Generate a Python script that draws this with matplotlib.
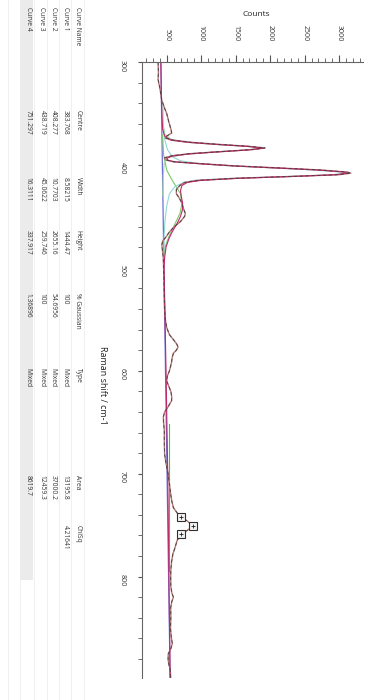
import matplotlib
matplotlib.use("Agg")
import matplotlib.pyplot as plt
from matplotlib.patches import Rectangle
from matplotlib.ticker import MultipleLocator

plt.rcParams['font.family'] = ['Open Sans', 'DejaVu Sans']

# measured spectrum
shift = [300, 310, 317, 325, 337, 345, 350, 358, 365, 369, 372, 374, 376, 378, 380, 382, 383.5,
         385, 387, 389, 391, 393, 395, 397, 399, 401, 403, 405, 407, 408, 409.5, 411, 413, 415,
         417, 420, 424, 428, 432, 437, 442, 447, 450, 455, 460, 465, 470, 474, 478, 484, 490,
         500, 510, 520, 530, 540, 550, 558, 565, 570, 574, 577, 580, 583, 587, 592, 600, 605,
         610, 615, 620, 625, 629, 635, 640, 645, 650, 658, 670, 681, 690, 701, 710, 720, 727,
         733, 738, 742, 746, 750.8, 755, 759, 765, 772, 778, 785, 793, 801, 810, 816, 820, 824,
         830, 840, 850, 858, 865, 870, 875, 880, 885, 890, 898]
counts = [375, 380, 375, 400, 428, 470, 500, 530, 560, 572, 500, 480, 600, 850, 1250, 1700, 1925,
          1750, 1300, 850, 580, 470, 480, 600, 1050, 1500, 2150, 2750, 3120, 3170, 3000, 2400, 1500, 950,
          760, 690, 640, 640, 680, 720, 740, 770, 760, 700, 610, 540, 490, 440, 430, 440, 450,
          455, 460, 462, 465, 470, 480, 500, 540, 600, 645, 665, 640, 597, 580, 570, 540, 510,
          500, 530, 560, 572, 572, 520, 470, 451, 455, 465, 465, 470, 490, 523, 540, 558, 575,
          597, 650, 703, 800, 877, 800, 707, 650, 620, 590, 572, 560, 558, 560, 575, 597, 575,
          558, 560, 555, 565, 581, 560, 523, 520, 530, 550, 558]

# total fit
fit_shift = [300, 340, 365, 372, 376, 378, 380, 382, 383.8, 385.5, 387.5, 389.5, 391.5, 393.5,
             395.5, 397, 399, 401, 403, 405, 407, 408, 409.5, 411, 413, 415, 417, 420, 425, 430,
             437, 443, 450, 457, 465, 472, 480, 490, 500, 600, 700, 900]
fit_counts = [415, 425, 440, 470, 560, 800, 1200, 1680, 1900, 1680, 1200, 800, 580, 500,
              520, 620, 1000, 1480, 2100, 2700, 3090, 3110, 2950, 2400, 1550, 1000, 800, 720, 700, 710,
              730, 730, 700, 650, 580, 530, 490, 470, 462, 490, 515, 550]

# fitted components (drawn on the baseline)
c1_shift = [360, 370, 375, 378, 380, 382, 383.8, 385.5, 387.5, 389.5, 392.5, 398, 410, 430]
c1_counts = [445, 470, 560, 780, 1180, 1660, 1870, 1660, 1180, 780, 520, 465, 450, 445]
c2_shift = [340, 360, 375, 385, 392, 396, 399, 401, 403, 405, 407, 408, 409.5, 411, 413, 415,
            417, 421, 428, 440, 454, 470, 490]
c2_counts = [445, 450, 470, 510, 580, 700, 1000, 1450, 2050, 2650, 3050, 3085, 2900, 2350, 1450, 900,
             750, 620, 540, 500, 475, 462, 458]
c3_shift = [371, 390, 405, 415, 428, 438, 447, 460, 470, 480, 495]
c3_counts = [440, 455, 500, 580, 700, 720, 693, 600, 530, 475, 455]
c4_shift = [652, 795]
c4_counts = [539, 539]

baseline_shift = [300, 900]
baseline_counts = [415, 550]

marker_shift = [742, 750.8, 759]
marker_counts = [703, 877, 707]

table_cols = ["Curve Name", "Centre", "Width", "Height", "% Gaussian", "Type", "Area", "ChiSq"]
table_rows = [
    ["Curve 1", "383.768", "8.58215", "1444.47", "100", "Mixed", "13195.8", "4.21641"],
    ["Curve 2", "408.277", "10.7703", "2655.16", "54.6956", "Mixed", "37000.2", ""],
    ["Curve 3", "438.719", "45.0622", "259.746", "100", "Mixed", "12459.3", ""],
    ["Curve 4", "751.297", "16.3111", "337.917", "1.36896", "Mixed", "8619.7", ""],
]

W, H = 384, 700
fig = plt.figure(figsize=(W / 100, H / 100), dpi=100)
ax = fig.add_axes([142 / W, 22 / H, 221 / W, 616 / H])

ax.plot(baseline_counts, baseline_shift, color='#6f6fd8', lw=0.9)
ax.plot(c4_counts, c4_shift, color='#33cc33', lw=0.8)
ax.plot(c3_counts, c3_shift, color='#7cc86a', lw=0.8)
ax.plot(c2_counts, c2_shift, color='#8fd8d4', lw=0.8)
ax.plot(c1_counts, c1_shift, color='#9ed89e', lw=0.8)
ax.plot(counts, shift, color='#b87878', lw=1.0)
ax.plot(fit_counts, fit_shift, color='#c0286a', lw=0.8)
ax.plot(counts, shift, color='#404040', lw=0.6, ls=(0, (4, 3)))
ax.plot(marker_counts, marker_shift, ls='none', marker='s', ms=6, mfc='#f4f4f4',
        mec='#303030', mew=0.8)
ax.plot(marker_counts, marker_shift, ls='none', marker='+', ms=3.5, mec='#202020', mew=0.6)

ax.set_xlim(142, 3345)
ax.set_ylim(898.5, 300)

ax.xaxis.tick_top()
ax.xaxis.set_major_locator(MultipleLocator(500))
ax.xaxis.set_minor_locator(MultipleLocator(100))
ax.yaxis.set_major_locator(MultipleLocator(100))
ax.yaxis.set_minor_locator(MultipleLocator(20))
ax.tick_params(axis='x', which='major', length=5, pad=10, labelsize=5, labelrotation=-90,
               color='#555555', labelcolor='#333333')
ax.tick_params(axis='x', which='minor', length=3, color='#555555')
ax.tick_params(axis='y', which='both', length=3, pad=9, labelsize=5, labelrotation=-90,
               color='#555555', labelcolor='#333333')
for side in ['right', 'bottom']:
    ax.spines[side].set_visible(False)
for side in ['left', 'top']:
    ax.spines[side].set_color('#666666')

fig.text(256 / W, 1 - 15 / H, 'Counts', ha='center', va='center', fontsize=6, color='#222222')
fig.text(103 / W, 1 - 385 / H, 'Raman shift / cm-1', rotation=-90, ha='center', va='center',
         fontsize=6.5, color='#222222')

# results table, turned on its side like the rest of the picture
row_x = [78, 65, 53, 42, 28]
col_y = [7, 110, 177, 230, 293, 368, 475, 525]
fig.patches.append(Rectangle((20 / W, 1 - 580 / H), 13 / W, 580 / H, transform=fig.transFigure,
                             facecolor='#ebebeb', edgecolor='none', zorder=0))
for xs in [84, 71, 59, 47, 34, 20, 8]:
    fig.add_artist(plt.Line2D([xs / W, xs / W], [0, 1], color='#eeeeee', lw=0.6))
for r, row in enumerate([table_cols] + table_rows):
    for c, txt in enumerate(row):
        fig.text(row_x[r] / W, 1 - col_y[c] / H, txt, rotation=-90, ha='center', va='top',
                 fontsize=4.8, color='#333333')

fig.savefig('out.png', dpi=100, facecolor='white')
